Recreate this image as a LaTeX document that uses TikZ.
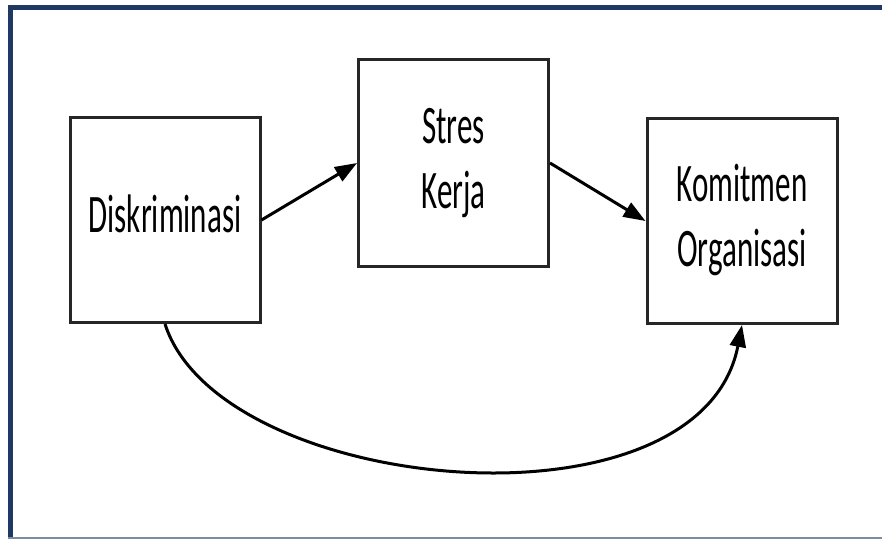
\documentclass[tikz,border=0pt]{standalone}
\usepackage{fontspec}
\setmainfont{Carlito}
\usepackage{graphicx}
\usetikzlibrary{arrows.meta}
\usetikzlibrary{positioning}

\definecolor{framenavy}{RGB}{31,56,100}
\definecolor{framegray}{RGB}{125,140,165}

\newcommand{\tall}[1]{\scalebox{1}[1.75]{\begin{tabular}{@{}c@{}}#1\end{tabular}}}

\begin{document}
\begin{tikzpicture}[x=1pt, y=-1pt,
    varbox/.style={draw=black!85, line width=3pt, minimum width=190pt, minimum height=205pt,
      inner sep=0pt, font=\fontsize{31}{37}\selectfont},
    link/.style={line width=3pt, -{Triangle[length=22pt,width=16pt]}}]

	\useasboundingbox (0,0) rectangle (882,539);

	% frame
	\draw[framenavy, line width=5pt] (10.5,539) -- (10.5,7) -- (882,7);
	\draw[framegray, line width=2pt] (8,538) -- (882,538);

	% variables
	\node[varbox] (disk) at (165,220) {\tall{Diskriminasi}};
	\node[varbox, minimum height=207pt] (stres) at (453.5,163) {\tall{Stres\\Kerja}};
	\node[varbox] (komit) at (742,221) {\tall{Komitmen\\Organisasi}};

	% paths
	\draw[link] (disk.east) -- (stres.west);
	\draw[link] (stres.east) -- (komit.west);
	\draw[link] (disk.south) .. controls (220,495) and (700,540) .. (komit.south);

\end{tikzpicture}
\end{document}
